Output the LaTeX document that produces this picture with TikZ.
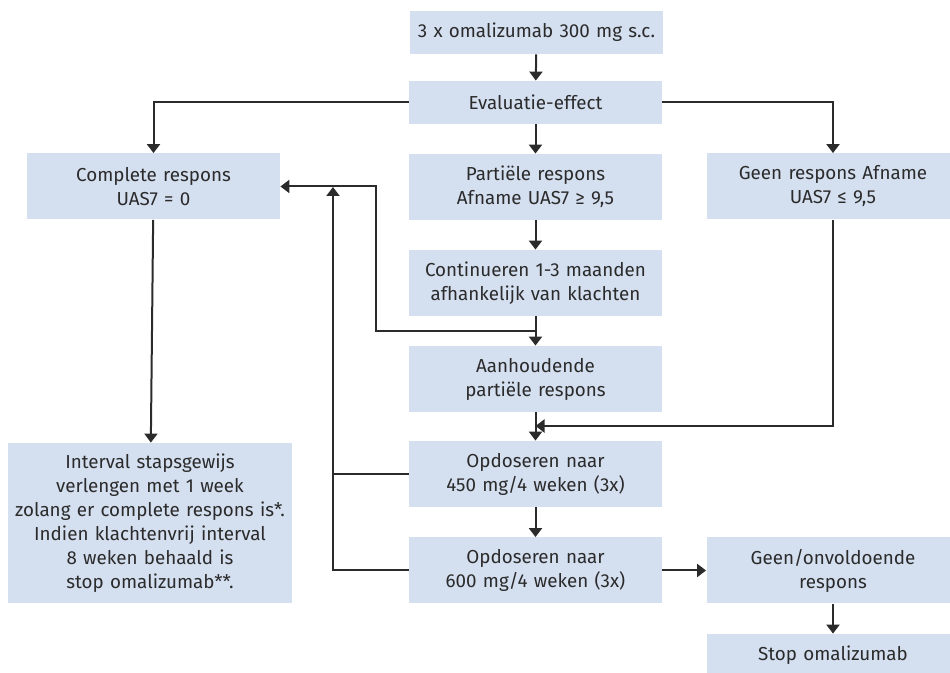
\documentclass[tikz,border=0pt]{standalone}
\usepackage{fontspec}
\setmainfont{Fira Sans}
\usetikzlibrary{arrows.meta}
\definecolor{blokblauw}{HTML}{D4DFF0}
\definecolor{tekstgrijs}{HTML}{2B2B2B}
\tikzset{
  blok/.style={fill=blokblauw, text=tekstgrijs, align=center, inner sep=0pt,
    text width=126.5pt, minimum height=33pt, font=\fontsize{9.4}{12}\selectfont},
  laag/.style={minimum height=21.5pt},
  breed/.style={text width=142pt},
  lijn/.style={line width=1pt, draw=tekstgrijs},
  pijl/.style={lijn, -{Triangle[width=6.5pt,length=4.5pt]}}
}
\begin{document}
\begin{tikzpicture}[x=0.5pt, y=-0.5pt]
\useasboundingbox (0,0) rectangle (950,673);
% middenkolom
\node[blok, laag] (start) at (536.5,32.5) {3 x omalizumab 300 mg s.c.};
\node[blok, laag] (eval) at (535.5,102.5) {Evaluatie-effect};
\node[blok] (partieel) at (535.5,187) {Partiële respons\\Afname UAS7 ≥ 9,5};
\node[blok] (cont) at (535.5,283) {Continueren 1-3 maanden\\afhankelijk van klachten};
\node[blok] (aanh) at (535.5,379) {Aanhoudende\\partiële respons};
\node[blok] (op450) at (535.5,474) {Opdoseren naar\\450 mg/4 weken (3x)};
\node[blok] (op600) at (535.5,570.5) {Opdoseren naar\\600 mg/4 weken (3x)};
% linkerkolom
\node[blok] (compleet) at (153.5,186.5) {Complete respons\\UAS7 = 0};
\node[blok, breed, minimum height=80pt] (interval) at (150,523) {Interval stapsgewijs\\verlengen met 1 week\\zolang er complete respons is*.\\Indien klachtenvrij interval\\8 weken behaald is\\stop omalizumab**.};
% rechterkolom
\node[blok] (geen) at (833,186.5) {Geen respons Afname\\UAS7 ≤ 9,5};
\node[blok] (onvold) at (833,570.5) {Geen/onvoldoende\\respons};
\node[blok, laag] (stop) at (833,655.5) {Stop omalizumab};
% hulppunten
\coordinate (tak) at (535.5,331);
\coordinate (samen) at (535.5,426);
\coordinate (terug) at (333,187);
% verbindingen
\draw[pijl] (start) -- (eval);
\draw[pijl] (eval.west) -| (compleet.north);
\draw[pijl] (eval.east) -| (geen.north);
\draw[pijl] (eval) -- (partieel);
\draw[pijl] (partieel) -- (cont);
\draw[pijl] (cont) -- (aanh);
\draw[pijl] (tak) -| (376,186.5) -- (compleet.east);
\draw[pijl] (compleet) -- (interval);
\draw[pijl] (geen.south) |- (samen);
\draw[pijl] (aanh) -- (op450);
\draw[lijn] (op450.west) -- (333,474);
\draw[pijl] (op600.west) -| (terug);
\draw[pijl] (op450) -- (op600);
\draw[pijl] (op600.east) -- (onvold.west);
\draw[pijl] (onvold) -- (stop);
\end{tikzpicture}
\end{document}
